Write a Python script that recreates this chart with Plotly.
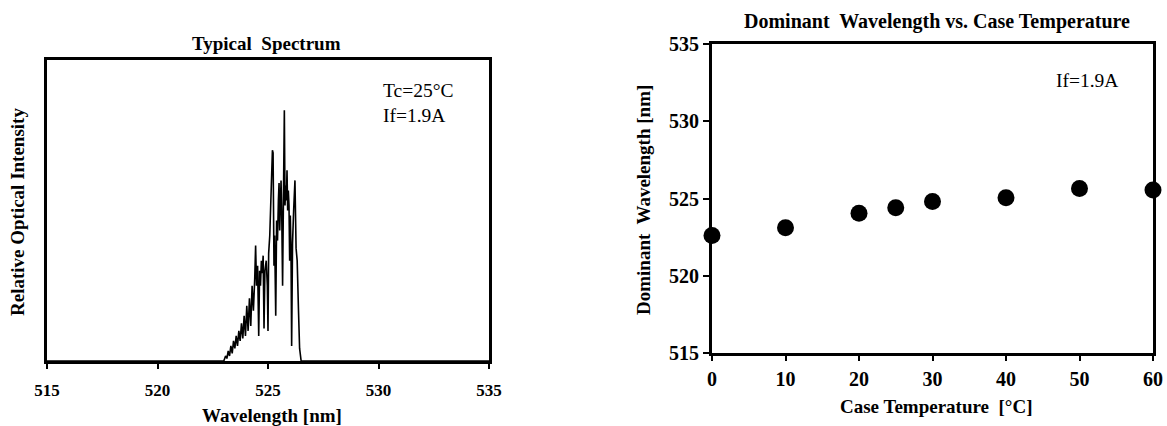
import plotly.graph_objects as go

# ---------------- data ----------------
spec_wavelength = [515.00, 523.00, 523.08, 523.14, 523.20, 523.26, 523.32, 523.38, 523.44,
                   523.50, 523.56, 523.62, 523.68, 523.74, 523.80, 523.86, 523.92, 523.98,
                   524.04, 524.10, 524.16, 524.22, 524.28, 524.34, 524.40, 524.44, 524.48,
                   524.53, 524.58, 524.62, 524.66, 524.70, 524.74, 524.78, 524.82, 524.86,
                   524.92, 524.97, 525.00, 525.03, 525.08, 525.13, 525.17, 525.20, 525.23,
                   525.27, 525.30, 525.35, 525.39, 525.43, 525.47, 525.50, 525.53, 525.56,
                   525.59, 525.62, 525.66, 525.70, 525.74, 525.77, 525.80, 525.83, 525.86,
                   525.89, 525.92, 525.95, 525.98, 526.01, 526.04, 526.07, 526.11, 526.16,
                   526.22, 526.27, 526.32, 526.38, 526.43, 526.50, 535.00]
spec_intensity = [0.00, 0.00, 0.02, 0.01, 0.04, 0.02, 0.06, 0.03, 0.08,
                  0.05, 0.10, 0.06, 0.12, 0.08, 0.15, 0.09, 0.18, 0.10,
                  0.22, 0.12, 0.25, 0.14, 0.30, 0.20, 0.33, 0.46, 0.30,
                  0.38, 0.10, 0.36, 0.30, 0.40, 0.35, 0.42, 0.13, 0.36,
                  0.40, 0.30, 0.12, 0.43, 0.50, 0.62, 0.70, 0.84, 0.83,
                  0.38, 0.50, 0.18, 0.56, 0.48, 0.64, 0.71, 0.52, 0.66,
                  0.72, 0.60, 0.30, 0.66, 1.00, 0.62, 0.70, 0.64, 0.76,
                  0.60, 0.68, 0.62, 0.40, 0.58, 0.45, 0.06, 0.47, 0.60,
                  0.72, 0.45, 0.40, 0.20, 0.05, 0.00, 0.00]

case_temp = [0, 10, 20, 25, 30, 40, 50, 60]
dom_wavelength = [522.6, 523.1, 524.05, 524.4, 524.8, 525.05, 525.65, 525.55]

spec_xticks = [515, 520, 525, 530, 535]
dom_xticks = [0, 10, 20, 30, 40, 50, 60]
dom_yticks = [515, 520, 525, 530, 535]

# ---------------- figure ----------------
W, H = 1167, 426
FONT = "Liberation Serif"


def px(x):
    return x / W


def py(y):
    return 1 - y / H


fig = go.Figure()
fig.add_trace(go.Scatter(x=spec_wavelength, y=spec_intensity, mode="lines",
                         line=dict(color="black", width=1.6), xaxis="x", yaxis="y",
                         showlegend=False, hoverinfo="skip"))
fig.add_trace(go.Scatter(x=case_temp, y=dom_wavelength, mode="markers",
                         marker=dict(color="black", size=17), xaxis="x2", yaxis="y2",
                         cliponaxis=False, showlegend=False))

frame = dict(showline=True, mirror=True, linewidth=3, linecolor="black",
             showgrid=False, zeroline=False, automargin=False)
tick_small = dict(family=FONT, size=17, color="black", weight="bold")
tick_big = dict(family=FONT, size=20, color="black", weight="bold")

fig.update_layout(
    template="none",
    width=W, height=H,
    margin=dict(l=0, r=0, t=0, b=0, pad=0, autoexpand=False),
    paper_bgcolor="white", plot_bgcolor="white",
    showlegend=False,
    xaxis=dict(domain=[px(47), px(489)], range=[515, 535], tickvals=spec_xticks,
               ticks="outside", ticklen=5, tickwidth=2, tickcolor="black",
               ticklabelstandoff=7, tickfont=tick_small, anchor="y", **frame),
    yaxis=dict(domain=[py(361), py(60)], range=[0, 1.2], showticklabels=False,
               ticks="", anchor="x", **frame),
    xaxis2=dict(domain=[px(712), px(1153)], range=[0, 60], tickvals=dom_xticks,
                ticks="outside", ticklen=5, tickwidth=2, tickcolor="black",
                ticklabelstandoff=1, tickfont=tick_big, anchor="y2", **frame),
    yaxis2=dict(domain=[py(353), py(44)], range=[515, 535], tickvals=dom_yticks,
                ticks="outside", ticklen=6, tickwidth=2, tickcolor="black",
                tickfont=tick_big, anchor="x2", **frame),
)

bold = dict(family=FONT, size=19, color="black", weight="bold")
bold_big = dict(family=FONT, size=20, color="black", weight="bold")
reg = dict(family=FONT, size=19.5, color="black")

ann = [
    dict(text="Typical  Spectrum", x=px(266), y=py(43), font=bold),
    dict(text="Wavelength [nm]", x=px(272), y=py(415), font=bold),
    dict(text="Relative Optical Intensity", x=px(17), y=py(212), font=bold, textangle=-90),
    dict(text="Dominant  Wavelength vs. Case Temperature", x=px(937), y=py(22), font=bold_big),
    dict(text="Case Temperature  [°C]", x=px(936), y=py(406), font=bold),
    dict(text="Dominant  Wavelength [nm]", x=px(643), y=py(200), font=bold, textangle=-90),
]
for a in ann:
    fig.add_annotation(xref="paper", yref="paper", showarrow=False,
                       xanchor="center", yanchor="middle", **a)

fig.add_annotation(text="Tc=25°C<br>If=1.9A", xref="paper", yref="paper",
                   x=px(381), y=py(103), xanchor="left", yanchor="middle",
                   align="left", showarrow=False, font=reg)
fig.add_annotation(text="If=1.9A", xref="paper", yref="paper",
                   x=px(1054), y=py(80), xanchor="left", yanchor="middle",
                   align="left", showarrow=False, font=reg)

fig.write_html("out.html")
